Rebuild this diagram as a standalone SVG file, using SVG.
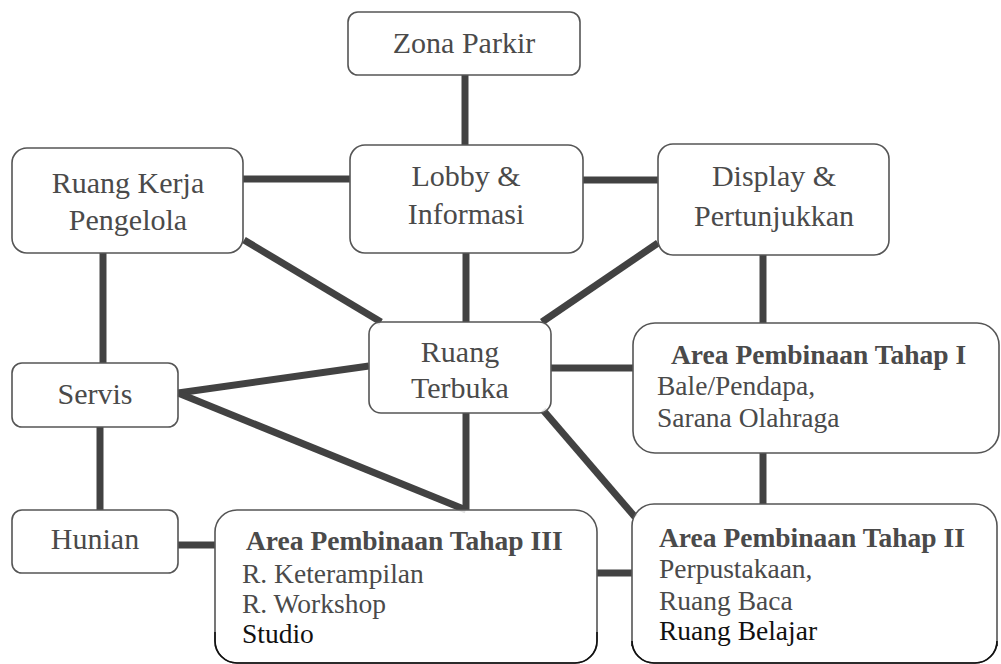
<svg xmlns="http://www.w3.org/2000/svg" width="1001" height="664" viewBox="0 0 1001 664">
<style>
.bx{fill:#fff;fill-opacity:0.85;stroke:#555;stroke-width:1.6}
.blk{fill:none;stroke:#111;stroke-width:1.6}
.t{font-family:"Liberation Serif","Times New Roman",serif;font-size:30px;fill:#4a4a4a}
.c{text-anchor:middle}
.a{font-family:"Liberation Serif","Times New Roman",serif;font-size:27.5px;fill:#4a4a4a}
.b{font-weight:bold}
.k{fill:#111}
#connectors line{stroke:#424242;stroke-width:7;stroke-linecap:butt}
</style>
<rect width="1001" height="664" fill="#fff"/>
<g id="connectors">
<line x1="465" y1="75" x2="465" y2="145"/>
<line x1="243" y1="179" x2="350" y2="179"/>
<line x1="583" y1="180" x2="658" y2="180"/>
<line x1="466" y1="253" x2="466" y2="322"/>
<line x1="244" y1="240" x2="381" y2="322"/>
<line x1="658" y1="243" x2="542" y2="322"/>
<line x1="103" y1="253" x2="103" y2="363"/>
<line x1="100" y1="427" x2="100" y2="510"/>
<line x1="178" y1="393" x2="369" y2="366"/>
<line x1="178" y1="393" x2="466" y2="510"/>
<line x1="466" y1="413" x2="466" y2="510"/>
<line x1="551" y1="368" x2="633" y2="368"/>
<line x1="543" y1="410" x2="635" y2="517"/>
<line x1="763" y1="255" x2="763" y2="323"/>
<line x1="763" y1="453" x2="763" y2="504"/>
<line x1="178" y1="545" x2="215" y2="545"/>
<line x1="597" y1="573" x2="632" y2="573"/>
</g>
<g id="zona-parkir">
<rect class="bx" x="348" y="12" width="232" height="63" rx="10"/>
<text class="t c" x="464" y="53">Zona Parkir</text>
</g>
<g id="lobby">
<rect class="bx" x="350" y="145" width="233" height="108" rx="15"/>
<text class="t c" x="466" y="186">Lobby &amp;</text>
<text class="t c" x="466" y="224">Informasi</text>
</g>
<g id="ruang-kerja">
<rect class="bx" x="12" y="148" width="231" height="105" rx="15"/>
<text class="t c" x="128" y="193">Ruang Kerja</text>
<text class="t c" x="128" y="230">Pengelola</text>
</g>
<g id="display">
<rect class="bx" x="658" y="144" width="231" height="111" rx="15"/>
<text class="t c" x="774" y="186">Display &amp;</text>
<text class="t c" x="774" y="226">Pertunjukkan</text>
</g>
<g id="ruang-terbuka">
<rect class="bx" x="369" y="322" width="182" height="91" rx="12"/>
<text class="t c" x="460" y="362">Ruang</text>
<text class="t c" x="460" y="398">Terbuka</text>
</g>
<g id="servis">
<rect class="bx" x="12" y="363" width="166" height="64" rx="10"/>
<text class="t c" x="95" y="404">Servis</text>
</g>
<g id="hunian">
<rect class="bx" x="12" y="510" width="166" height="63" rx="10"/>
<text class="t c" x="95" y="549">Hunian</text>
</g>
<g id="tahap-1">
<rect class="bx" x="633" y="323" width="366" height="130" rx="22"/>
<text class="a b" x="671" y="364">Area Pembinaan Tahap I</text>
<text class="a" x="657" y="395">Bale/Pendapa,</text>
<text class="a" x="657" y="427">Sarana Olahraga</text>
</g>
<g id="tahap-3">
<rect class="bx" x="215" y="510" width="382" height="153" rx="22"/>
<path class="blk" d="M215 632 V641 A22 22 0 0 0 237 663 H575 A22 22 0 0 0 597 641 V632"/>
<text class="a b" x="246" y="550">Area Pembinaan Tahap III</text>
<text class="a" x="242" y="583">R. Keterampilan</text>
<text class="a" x="242" y="613">R. Workshop</text>
<text class="a k" x="242" y="643">Studio</text>
</g>
<g id="tahap-2">
<rect class="bx" x="632" y="504" width="365" height="159" rx="22"/>
<path class="blk" d="M632 646 V641 A22 22 0 0 0 654 663 H975 A22 22 0 0 0 997 641 V646"/>
<text class="a b" x="659" y="547">Area Pembinaan Tahap II</text>
<text class="a" x="659" y="578">Perpustakaan,</text>
<text class="a" x="659" y="610">Ruang Baca</text>
<text class="a k" x="659" y="640">Ruang Belajar</text>
</g>
</svg>
